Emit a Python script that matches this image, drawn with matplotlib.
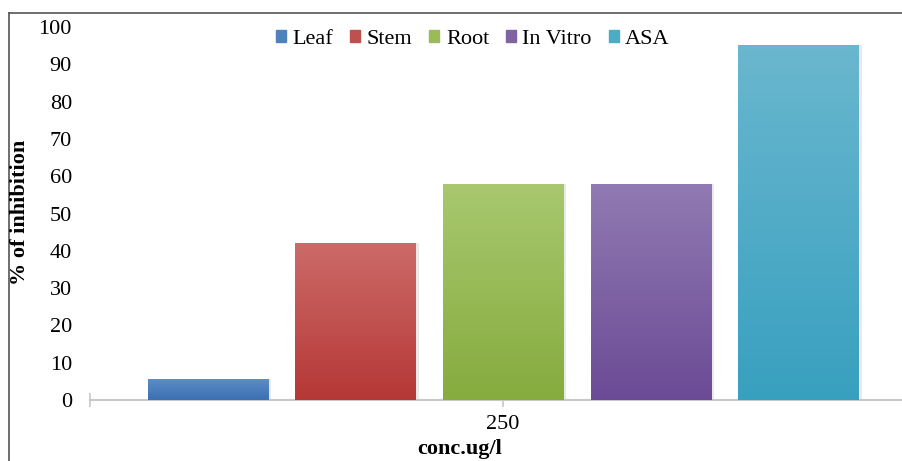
import matplotlib
matplotlib.use("Agg")
import matplotlib.pyplot as plt
import numpy as np
from matplotlib.colors import LinearSegmentedColormap
from matplotlib.lines import Line2D
from matplotlib.patches import Rectangle

categories = ["250"]
series = ["Leaf", "Stem", "Root", "In Vitro", "ASA"]
values = [5.5, 42.2, 58.0, 58.0, 95.3]
legend_colors = ["#4f81bd", "#c0504d", "#9bbb59", "#8064a2", "#4bacc6"]
top_colors = ["#5b8cc8", "#cc6b69", "#a9c86f", "#917bb3", "#6ab7cf"]
bottom_colors = ["#3d70b2", "#b53836", "#86ab3e", "#6b4b95", "#38a0bf"]
yticks = [0, 10, 20, 30, 40, 50, 60, 70, 80, 90, 100]

plt.rcParams['font.family'] = ['Liberation Serif', 'DejaVu Serif']
FS = 16

W, H = 903, 461
fig = plt.figure(figsize=(W / 100, H / 100), dpi=100)
ax = fig.add_axes([90 / W, 61 / H, 826 / W, 373 / H])

spacing = 0.1788
width = 0.1453
n = len(series)
for i, (name, v) in enumerate(zip(series, values)):
    x = (i - (n - 1) / 2) * spacing
    ax.bar(x + 0.004, v, width, bottom=0, color="#d0d0d0", alpha=0.45, zorder=1, linewidth=0)
    bars = ax.bar(x, v, width, color=legend_colors[i], label=name, zorder=2, linewidth=0)
    rect = bars[0]
    cmap = LinearSegmentedColormap.from_list("g", [bottom_colors[i], top_colors[i]])
    grad = np.linspace(0, 1, 256).reshape(-1, 1)
    im = ax.imshow(grad, cmap=cmap, aspect="auto", origin="lower",
                   extent=[x - width / 2, x + width / 2, 0, v], zorder=3)
    im.set_clip_path(rect)

ax.set_xlim(-0.5, 0.5)
ax.set_ylim(0, 100)
ax.set_yticks(yticks)
ax.set_yticklabels([str(t) for t in yticks], fontsize=FS)
ax.tick_params(axis='y', length=0, pad=13)
ax.set_xticks([-0.5, 0, 0.5])
ax.set_xticklabels(["", categories[0], ""], fontsize=FS)
ax.tick_params(axis='x', direction='inout', length=10, color="#c8c8c8", width=1.2, pad=6)

for s in ["left", "right", "top"]:
    ax.spines[s].set_visible(False)
ax.spines["bottom"].set_color("#c8c8c8")
ax.spines["bottom"].set_linewidth(1.5)

fig.text(20 / W, 1 - 212 / H, "% of inhibition", fontsize=FS, fontweight="bold",
         rotation=90, ha="center", va="center")
fig.text(460 / W, 1 - 459 / H, "conc.ug/l", fontsize=FS, fontweight="bold",
         ha="center", va="bottom")

handles = [Rectangle((0, 0), 1, 1, color=c) for c in legend_colors]
fig.legend(handles, series, loc="center", bbox_to_anchor=(473 / W, 1 - 39 / H),
           ncol=5, frameon=False, fontsize=FS, handlelength=0.45, handleheight=0.45,
           handletextpad=0.3, columnspacing=0.75)

fig.add_artist(Line2D([8.5 / W, 8.5 / W], [0, 1 - 13.5 / H], transform=fig.transFigure,
                      color="#555555", linewidth=1.2))
fig.add_artist(Line2D([8.5 / W, 1], [1 - 13.5 / H, 1 - 13.5 / H], transform=fig.transFigure,
                      color="#555555", linewidth=1.2))

fig.savefig("out.png", dpi=100)
